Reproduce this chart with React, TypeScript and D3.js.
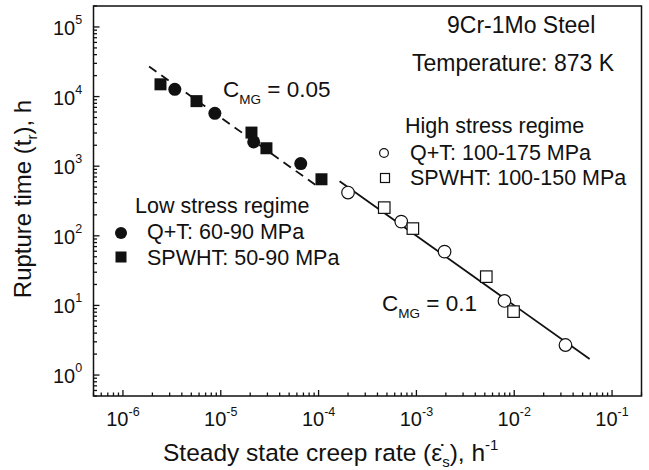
import React, { useEffect, useRef } from "react";
import * as d3 from "d3";

// low stress regime (filled symbols)
const lowQTRate = [3.39e-6, 8.7e-6, 2.17e-5, 6.57e-5];
const lowQTTime = [1.27e4, 5.75e3, 2.23e3, 1.09e3];
const lowSPRate = [2.42e-6, 5.65e-6, 2.06e-5, 2.93e-5, 1.07e-4];
const lowSPTime = [1.5e4, 8.6e3, 3.04e3, 1.81e3, 649];

// high stress regime (open symbols)
const highQTRate = [2.0e-4, 7.0e-4, 1.94e-3, 7.94e-3, 3.34e-2];
const highQTTime = [418, 160, 59.3, 11.6, 2.7];
const highSPRate = [4.69e-4, 9.2e-4, 5.18e-3, 9.84e-3];
const highSPTime = [254, 127, 25.9, 8.15];

// Monkman-Grant lines: tr = C / rate
const mgLowC = 0.05;
const mgLowRange = [1.85e-6, 1.0e-4];
const mgHighC = 0.1;
const mgHighRange = [1.64e-4, 5.9e-2];

const xDomain = [5e-7, 0.2];
const yDomain = [0.5, 2e5];

const FONT = "'Liberation Sans', Arial, sans-serif";

export default function App() {
  const ref = useRef<SVGSVGElement>(null);

  useEffect(() => {
    const svg = d3.select(ref.current);
    svg.selectAll("*").remove();

    const left = 93.5, right = 641.5, top = 6, bottom = 396;
    const x = d3.scaleLog().domain(xDomain).range([left, right]);
    const y = d3.scaleLog().domain(yDomain).range([bottom, top]);

    const g = svg.append("g").style("font-family", FONT).attr("fill", "#111");

    // frame
    g.append("rect")
      .attr("x", left).attr("y", top)
      .attr("width", right - left).attr("height", bottom - top)
      .attr("fill", "none").attr("stroke", "#111").attr("stroke-width", 1.5);

    const isMajor = (v: number) => Math.abs(Math.log10(v) - Math.round(Math.log10(v))) < 1e-6;

    // x ticks (inward)
    x.ticks().forEach((v) => {
      const len = isMajor(v) ? 6 : 3.5;
      g.append("line")
        .attr("x1", x(v)).attr("x2", x(v))
        .attr("y1", bottom).attr("y2", bottom - len)
        .attr("stroke", "#111").attr("stroke-width", 1.3);
      if (isMajor(v)) {
        const t = g.append("text")
          .attr("x", x(v)).attr("y", 426)
          .attr("text-anchor", "middle")
          .attr("font-size", 20);
        t.append("tspan").text("10");
        t.append("tspan").attr("dy", -10).attr("font-size", 12.5)
          .text(String(Math.round(Math.log10(v))));
      }
    });

    // y ticks (inward)
    y.ticks().forEach((v) => {
      const len = isMajor(v) ? 6 : 3.5;
      g.append("line")
        .attr("x1", left).attr("x2", left + len)
        .attr("y1", y(v)).attr("y2", y(v))
        .attr("stroke", "#111").attr("stroke-width", 1.3);
      if (isMajor(v)) {
        const t = g.append("text")
          .attr("x", 53).attr("y", y(v) + 8)
          .attr("font-size", 20);
        t.append("tspan").text("10");
        t.append("tspan").attr("dy", -11).attr("font-size", 12.5)
          .text(String(Math.round(Math.log10(v))));
      }
    });

    // axis titles
    const xt = g.append("text").attr("x", 163).attr("y", 461).attr("font-size", 24.5);
    xt.append("tspan").text("Steady state creep rate (\u03B5\u0307");
    xt.append("tspan").attr("dy", 6).attr("font-size", 15).text("s");
    xt.append("tspan").attr("dy", -6).text("), h");
    xt.append("tspan").attr("dy", -11).attr("font-size", 15).text("-1");

    const yt = g.append("text")
      .attr("transform", "translate(31,199) rotate(-90)")
      .attr("text-anchor", "middle").attr("font-size", 24);
    yt.append("tspan").text("Rupture time (t");
    yt.append("tspan").attr("dy", 6).attr("font-size", 15).text("r");
    yt.append("tspan").attr("dy", -6).text("), h");

    // fit lines
    const line = d3.line<number[]>().x((d) => x(d[0])).y((d) => y(d[1]));
    g.append("path")
      .attr("d", line(mgLowRange.map((r) => [r, mgLowC / r])))
      .attr("fill", "none").attr("stroke", "#111").attr("stroke-width", 1.8)
      .attr("stroke-dasharray", "9,6");
    g.append("path")
      .attr("d", line(mgHighRange.map((r) => [r, mgHighC / r])))
      .attr("fill", "none").attr("stroke", "#111").attr("stroke-width", 1.8);

    const circle = (cx: number, cy: number, r: number, filled: boolean) =>
      g.append("circle").attr("cx", cx).attr("cy", cy).attr("r", r)
        .attr("fill", filled ? "#111" : "#fff")
        .attr("stroke", "#111").attr("stroke-width", filled ? 0 : 1.2);
    const square = (cx: number, cy: number, s: number, filled: boolean) =>
      g.append("rect").attr("x", cx - s / 2).attr("y", cy - s / 2)
        .attr("width", s).attr("height", s)
        .attr("fill", filled ? "#111" : "#fff")
        .attr("stroke", "#111").attr("stroke-width", filled ? 0 : 1.2);

    lowSPRate.forEach((r, i) => square(x(r), y(lowSPTime[i]), 12, true));
    lowQTRate.forEach((r, i) => circle(x(r), y(lowQTTime[i]), 6.5, true));
    highQTRate.forEach((r, i) => circle(x(r), y(highQTTime[i]), 6.3, false));
    highSPRate.forEach((r, i) => square(x(r), y(highSPTime[i]), 11.5, false));

    // annotations
    g.append("text").attr("x", 447).attr("y", 33).attr("font-size", 23).text("9Cr-1Mo Steel");
    g.append("text").attr("x", 412).attr("y", 71).attr("font-size", 23).text("Temperature: 873 K");

    const mg1 = g.append("text").attr("x", 223).attr("y", 97).attr("font-size", 22.5);
    mg1.append("tspan").text("C");
    mg1.append("tspan").attr("dy", 7).attr("font-size", 13.5).text("MG");
    mg1.append("tspan").attr("dy", -7).text(" = 0.05");

    const mg2 = g.append("text").attr("x", 382).attr("y", 311).attr("font-size", 22.5);
    mg2.append("tspan").text("C");
    mg2.append("tspan").attr("dy", 7).attr("font-size", 13.5).text("MG");
    mg2.append("tspan").attr("dy", -7).text(" = 0.1");

    // legends
    g.append("text").attr("x", 405).attr("y", 133).attr("font-size", 21.5).text("High stress regime");
    circle(384, 153, 4.4, false);
    g.append("text").attr("x", 410).attr("y", 160).attr("font-size", 21.5).text("Q+T: 100-175 MPa");
    square(385, 178, 9, false);
    g.append("text").attr("x", 410).attr("y", 185).attr("font-size", 21.5).text("SPWHT: 100-150 MPa");

    g.append("text").attr("x", 135).attr("y", 213).attr("font-size", 21.5).text("Low stress regime");
    circle(121, 233, 6, true);
    g.append("text").attr("x", 147).attr("y", 239).attr("font-size", 21.5).text("Q+T: 60-90 MPa");
    square(121, 257, 11, true);
    g.append("text").attr("x", 147).attr("y", 265).attr("font-size", 21.5).text("SPWHT: 50-90 MPa");
  }, []);

  return (
    <svg
      ref={ref}
      width={649}
      height={470}
      style={{ position: "absolute", left: 0, top: 0, background: "#fff" }}
    />
  );
}
